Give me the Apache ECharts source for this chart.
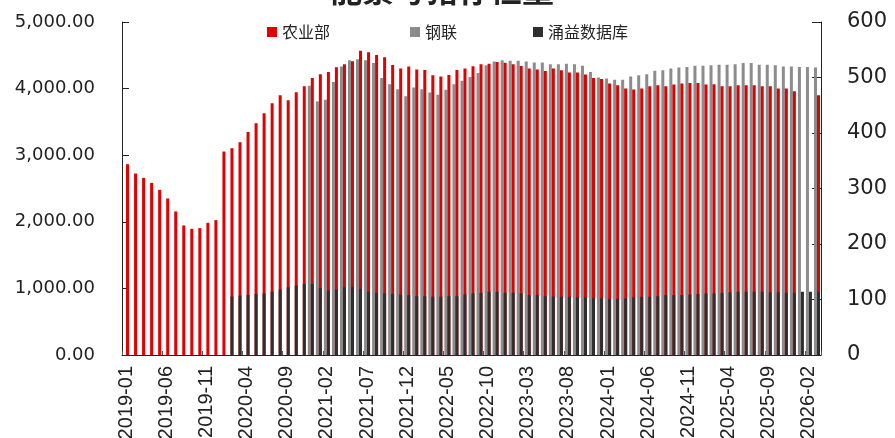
<!DOCTYPE html>
<html><head><meta charset="utf-8">
<script src="https://cdn.jsdelivr.net/npm/echarts@6/dist/echarts.min.js"></script>
<style>html,body{margin:0;padding:0;background:#fff}#c{width:895px;height:438px}</style>
</head><body><div id="c"></div>
<script>
// categories 2019-01 .. 2026-03
const categories = [];
for (let y = 2019; y <= 2026; y++) for (let m = 1; m <= 12; m++) {
  if (y === 2026 && m > 3) break;
  categories.push(y + '-' + String(m).padStart(2, '0'));
}
const N = null;
// 农业部 (left axis)
const moa = [2865,2725,2660,2585,2480,2350,2155,1945,1895,1905,1985,2025,
  3055,3105,3195,3350,3480,3630,3780,3900,3825,3945,4035,4160,
  4215,4250,4320,4365,4410,4570,4545,4505,4470,4355,4300,4330,
  4288,4280,4200,4180,4205,4280,4300,4335,4365,4375,4400,4390,
  4365,4340,4300,4285,4265,4300,4275,4240,4240,4210,4160,4145,
  4075,4050,4000,3985,4000,4035,4050,4035,4060,4075,4085,4085,
  4060,4065,4035,4035,4050,4050,4050,4035,4035,4000,4000,3960,
  N,N,3900];
// 钢联 (right axis)
const mysteel = [N,N,N,N,N,N,N,N,N,N,N,N,
  N,N,N,N,N,N,N,N,N,N,N,485,
  457,460,492,520,531,533,531,526,499,488,479,466,
  482,479,473,469,478,488,494,501,508,522,529,531,
  530,530,529,527,527,524,524,525,524,521,510,500,
  498,496,496,502,504,506,512,513,516,518,519,521,
  521,522,523,523,524,526,526,523,523,522,520,520,
  519,519,518];
// 涌益数据库 (right axis)
const yongyi = [N,N,N,N,N,N,N,N,N,N,N,N,
  N,105,107,108,110,111,114,118,122,125,128,128,
  121,116,118,122,123,119,114,112,111,110,109,108,
  106,106,105,105,106,106,109,111,112,114,114,112,
  112,111,108,108,106,105,105,105,104,104,102,102,
  101,101,102,104,105,105,106,108,108,108,109,110,
  111,111,112,113,114,114,114,114,113,113,112,112,
  114,114,114];
const seriesNames = ['农业部','钢联','涌益数据库'];
const leftTicks = [0,1000,2000,3000,4000,5000];
const rightTicks = [0,100,200,300,400,500,600];

const numFont = 'DejaVu Sans';
const cjkFont = 'Noto Sans CJK SC';
const RED = '#E20000', GRAY = '#8C8C8C', BLACK = '#2E2E2E';
const fmt = v => {
  const s = Math.round(v).toString().replace(/\B(?=(\d{3})+(?!\d))/g, ',');
  return s + '.00';
};
const chart = echarts.init(document.getElementById('c'), null, {renderer: 'canvas'});
const legendBase = {top: 19, itemWidth: 10, itemHeight: 10, icon: 'rect',
  textStyle: {fontFamily: cjkFont, fontSize: 16, color: '#222'}, selectedMode: false};
chart.setOption({
  animation: false,
  backgroundColor: '#fff',
  title: {text: '能繁母猪存栏量', left: 325, top: -31,
    textStyle: {fontFamily: cjkFont, fontSize: 32, fontWeight: 'bold', color: '#222'}},
  legend: [
    Object.assign({}, legendBase, {left: 262, data: [seriesNames[0]]}),
    Object.assign({}, legendBase, {left: 405, data: [seriesNames[1]]}),
    Object.assign({}, legendBase, {left: 528, data: [seriesNames[2]]})
  ],
  grid: {left: 122, right: 74, top: 22, bottom: 83, containLabel: false, outerBoundsMode: 'none'},
  xAxis: [{
    type: 'category', data: categories, gridIndex: 0,
    axisLine: {show: true, lineStyle: {color: '#222', width: 1}},
    axisTick: {show: true, inside: true, interval: 4, length: 4, lineStyle: {color: '#555'}},
    axisLabel: {interval: 4, rotate: 90, margin: 11, fontFamily: 'Liberation Sans', fontSize: 20, color: '#222'},
    splitLine: {show: false}
  }, {
    type: 'category', data: categories, gridIndex: 0, show: false
  }],
  yAxis: [{
    type: 'value', min: leftTicks[0], max: leftTicks[leftTicks.length-1], interval: 1000,
    axisLine: {show: true, lineStyle: {color: '#222'}},
    axisTick: {show: true, inside: true, length: 7, lineStyle: {color: '#222'}},
    axisLabel: {formatter: fmt, margin: 27, fontFamily: numFont, fontSize: 18, color: '#222'},
    splitLine: {show: false}
  }, {
    type: 'value', min: rightTicks[0], max: rightTicks[rightTicks.length-1], interval: 100,
    position: 'right',
    axisLine: {show: true, lineStyle: {color: '#222'}},
    axisTick: {show: true, inside: true, length: 9, lineStyle: {color: '#222'}},
    axisLabel: {margin: 26, fontFamily: numFont, fontSize: 21, color: '#222'},
    splitLine: {show: false}
  }],
  series: [
    {name: seriesNames[1], type: 'bar', xAxisIndex: 0, yAxisIndex: 1, data: mysteel,
      barWidth: 3, barGap: '0%', itemStyle: {color: GRAY}},
    {name: seriesNames[0], type: 'bar', xAxisIndex: 0, yAxisIndex: 0, data: moa,
      barWidth: 3, barGap: '0%', itemStyle: {color: RED}},
    {name: '_slot', type: 'bar', xAxisIndex: 1, yAxisIndex: 1, data: [],
      barWidth: 3, barGap: '0%', itemStyle: {color: 'transparent'}, silent: true},
    {name: seriesNames[2], type: 'bar', xAxisIndex: 1, yAxisIndex: 1, data: yongyi,
      barWidth: 3, barGap: '0%', itemStyle: {color: BLACK}}
  ]
});
</script></body></html>
